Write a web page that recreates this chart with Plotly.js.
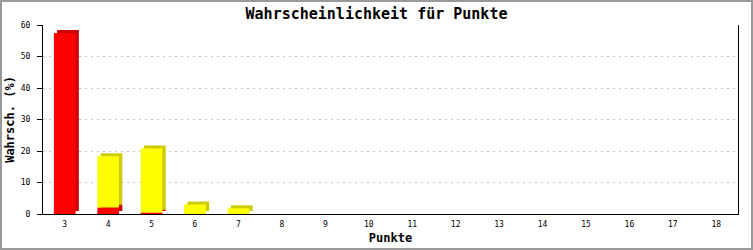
<!DOCTYPE html>
<html>
<head>
<meta charset="utf-8">
<script src="https://cdn.plot.ly/plotly-3.0.1.min.js"></script>
<style>
html,body{margin:0;padding:0;background:#fff;}
#chart{width:749px;height:246px;border:2px solid #999;}
</style>
</head>
<body>
<div id="chart"></div>
<script>
// Data
const categories = ['3','4','5','6','7','8','9','10','11','12','13','14','15','16','17','18'];
const redValues    = [57.5, 2.1, 0.5, 0, 0, 0, 0, 0, 0, 0, 0, 0, 0, 0, 0, 0];
const yellowValues = [0, 16.2, 20.3, 3.0, 1.8, 0, 0, 0, 0, 0, 0, 0, 0, 0, 0, 0];
const xTitle = 'Punkte';
const yTitle = 'Wahrsch. (%)';
const chartTitle = 'Wahrscheinlichkeit für Punkte';

// 3D look parameters (style only)
const BAR_W = 0.5;
const DX = 0.076;   // side depth in category units
const DY = 0.95;    // top depth in value units
const mono = '"DejaVu Sans Mono", "Liberation Mono", monospace';

const zeros = categories.map(() => 0);
const redShadowBase = redValues.map(() => DY);
const yellowBase = redValues.slice();
const yellowShadowBase = redValues.map(v => v + DY);

function bar(y, base, color, offset) {
  return {
    type: 'bar', x: categories, y: y, base: base,
    width: BAR_W, offset: offset,
    marker: {color: color, line: {width: 0}},
    hoverinfo: 'skip', showlegend: false
  };
}

const traces = [
  bar(redValues, redShadowBase, '#cc0000', -BAR_W/2 + DX),
  bar(redValues, zeros, '#ff0000', -BAR_W/2),
  bar(yellowValues, yellowShadowBase, '#cccc00', -BAR_W/2 + DX),
  bar(yellowValues, yellowBase, '#ffff00', -BAR_W/2)
];

const layout = {
  width: 749, height: 246,
  margin: {l: 41, r: 13, t: 23, b: 34, pad: 0},
  paper_bgcolor: '#ffffff', plot_bgcolor: '#ffffff',
  barmode: 'overlay',
  showlegend: false,
  font: {family: mono, color: '#000', size: 8},
  title: {
    text: chartTitle,
    font: {family: mono, size: 15, weight: 'bold', color: '#000'},
    x: 0.5, xanchor: 'center', y: 0.953, yanchor: 'middle', yref: 'container'
  },
  xaxis: {
    type: 'category',
    range: [-0.5, categories.length - 0.5],
    showline: true, linecolor: '#000', linewidth: 1,
    ticks: '', showgrid: false, zeroline: false,
    tickfont: {family: mono, size: 8, color: '#000'},
    ticklabelstandoff: 2,
    title: {text: xTitle, font: {family: mono, size: 12, weight: 'bold', color: '#000'}, standoff: 6},
    fixedrange: true
  },
  yaxis: {
    range: [0, 60], dtick: 10, tick0: 0,
    showline: true, linecolor: '#000', linewidth: 1, mirror: true,
    ticks: 'outside', ticklen: 5, tickcolor: '#000', tickwidth: 1,
    ticklabelstandoff: 5,
    showgrid: true, gridcolor: '#c4c4c4', griddash: '2px,4px', gridwidth: 1,
    zeroline: false,
    tickfont: {family: mono, size: 8, color: '#000'},
    title: {text: yTitle, font: {family: mono, size: 12, weight: 'bold', color: '#000'}, standoff: 3},
    fixedrange: true
  }
};

Plotly.newPlot('chart', traces, layout, {displayModeBar: false, staticPlot: true});
</script>
</body>
</html>
